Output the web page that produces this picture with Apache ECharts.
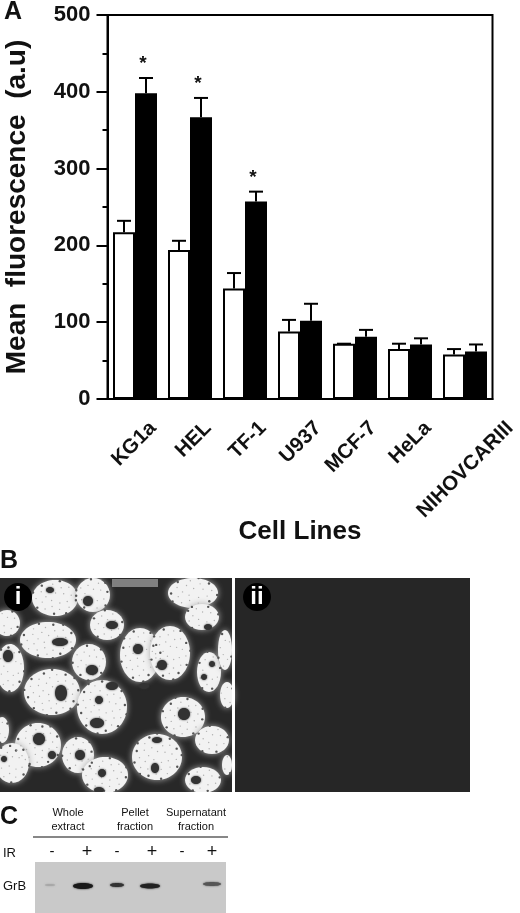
<!DOCTYPE html>
<html><head><meta charset="utf-8">
<style>html,body{margin:0;padding:0;background:#fff}#c{width:520px;height:913px}</style>
<script src="https://cdn.jsdelivr.net/npm/echarts@6/dist/echarts.min.js"></script>
</head><body><div id="c"></div>
<script>
const categories = ['KG1a','HEL','TF-1','U937','MCF-7','HeLa','NIHOVCARIII'];
const controlValues = [217,194,144,88,72,65,58];
const treatedValues = [398,367,257,102,81,71,62];
const controlTops = [232,206,164,103,72,72,65];
const treatedTops = [418,392,270,124,90,79,71];
const significant = [true,true,true,false,false,false,false];

// Panel B decoration: [cx, cy, rx, ry]
const cells = [[55,598,23,18],[93,595,17,17],[107,625,17,15],[48,640,28,18],[89,662,17,18],[10,668,14,24],[7,623,13,13],
 [52,692,28,23],[102,707,25,27],[140,655,20,27],[170,653,20,27],[193,593,25,15],[202,617,17,13],[209,672,12,20],
 [183,717,22,20],[212,740,17,14],[38,745,23,22],[78,755,16,18],[12,763,17,20],[105,775,23,18],[157,757,25,23],
 [203,780,18,13],[227,695,7,13],[225,650,7,20],[2,730,7,13],[227,765,5,10]];
const nuclei = [[88,601,5,5],[112,625,6,4],[60,642,8,4],[92,670,6,5],[8,656,5,6],[61,693,6,8],[112,686,6,4],[99,700,4,4],
 [97,723,7,5],[138,649,5,5],[162,665,5,5],[144,686,5,3],[212,664,3,3],[204,677,3,3],[184,714,6,6],[39,739,6,6],[52,755,4,4],
 [80,755,5,5],[4,759,3,3],[102,773,4,4],[99,790,5,3],[155,768,4,5],[157,740,5,3],[196,780,5,4],[50,590,4,3],[208,627,4,3]];
// Panel C decoration
const bands = [[50,885,5,1,'#a8a8a8'],[83,886,10,3,'#1a1a1a'],[117,885,7,2,'#333'],[150,886,10,2.5,'#222'],[212,884,9,2,'#555']];
const lanes = [[52,'-'],[87,'+'],[117,'-'],[152,'+'],[182,'-'],[212,'+']];
const heads = [[68,813,'Whole'],[68,827,'extract'],[135,813,'Pellet'],[135,827,'fraction'],[196,813,'Supernatant'],[196,827,'fraction']];

const FONT = '"Liberation Sans", Arial, sans-serif';
const txt = (x,y,s,size,weight,extra) => ({type:'text',z:20,style:Object.assign({x,y,text:s,font:`${weight||'normal'} ${size}px ${FONT}`,fill:'#111',align:'center',verticalAlign:'middle'},extra||{})});
const rect = (x,y,w,h,fill,z) => ({type:'rect',z:z||5,shape:{x,y,width:w,height:h},style:{fill}});
const ell = (c,fill,z,blur,sc) => ({type:'ellipse',z,shape:{cx:c[0],cy:c[1],rx:c[2],ry:c[3]},style:{fill,shadowBlur:blur,shadowColor:sc||fill}});
// micrograph grain: small specks scattered over each cell on a golden-angle spiral
const specks = cells.flatMap(c => {
  const n = Math.round(c[2]*c[3]/16), out = [];
  for (let k=1;k<=n;k++){ const r=Math.sqrt(k/n)*1.02, t=k*2.39996;
    out.push({type:'circle',z:7,shape:{cx:c[0]+r*c[2]*Math.cos(t),cy:c[1]+r*c[3]*Math.sin(t),r:r>0.85?1.2:0.7},style:{fill:r>0.85?'#555':'#b0b0b0'}}); }
  return out;
});

const graphics = [
  txt(13,12,'A',25,'bold'), txt(9,561,'B',25,'bold'), txt(9,817,'C',25,'bold'),
  rect(0,578,232,214,'#282828',5), rect(235,578,235,214,'#262626',5),
  rect(112,579,46,8,'#808080',6),
  ...cells.map(c=>ell(c,'#f2f2f2',7,6,'#aaa')),
  ...specks,
  ...nuclei.map(c=>ell(c,'#333',8,2)),
  rect(232,570,3,230,'#fff',9), rect(0,792,240,8,'#fff',9), rect(0,570,240,8,'#fff',9),
  ell([18,597,14,14],'#000',10,0), txt(18,597,'i',24,'bold',{fill:'#fff'}),
  ell([257,597,14,14],'#000',10,0), txt(257,597,'ii',24,'bold',{fill:'#fff'}),
  ...heads.map(h=>txt(h[0],h[1],h[2],11)),
  {type:'line',z:20,shape:{x1:33,y1:837,x2:228,y2:837},style:{stroke:'#111',lineWidth:1.2}},
  txt(3,853,'IR',13,'normal',{align:'left'}), txt(3,886,'GrB',13,'normal',{align:'left'}),
  ...lanes.map(l=>txt(l[0],852,l[1],l[1]==='+'?18:15)),
  rect(35,862,191,51,'#c9c9c9',5),
  ...bands.map(b=>ell(b.slice(0,4),b[4],6,2))
];

const chart = echarts.init(document.getElementById('c'));
const errorRender = (tops,off) => (p,api) => {
  const i = api.value(0), a = api.coord([i,api.value(1)]), b = api.coord([i,tops[i]]);
  const x = a[0]+off, st = {stroke:'#000',lineWidth:2};
  return {type:'group',children:[
    {type:'line',shape:{x1:x,y1:a[1],x2:x,y2:b[1]},style:st},
    {type:'line',shape:{x1:x-7,y1:b[1],x2:x+7,y2:b[1]},style:st}
  ]};
};
const last = categories.length-1;
const labelBase = {rotate:45,interval:0,margin:26,fontFamily:FONT,fontWeight:'bold',fontSize:20.5,color:'#111'};
chart.setOption({
  animation:false,
  backgroundColor:'#fff',
  grid:[
    {left:107.5,right:27.5,top:15,height:384,outerBoundsMode:'none',show:true,borderColor:'#000',borderWidth:2,backgroundColor:'transparent'},
    {left:125.5,right:9.5,top:15,height:384,outerBoundsMode:'none'},
    {left:152.5,right:-17.5,top:15,height:384,outerBoundsMode:'none'}
  ],
  xAxis:[
   {type:'category',data:categories,gridIndex:0,
    name:'Cell Lines',nameLocation:'middle',nameGap:120,nameTextStyle:{fontFamily:FONT,fontWeight:'bold',fontSize:26,color:'#111'},
    axisLine:{lineStyle:{color:'#000',width:2}},
    axisTick:{alignWithLabel:true,length:10,lineStyle:{color:'#000',width:2}},
    axisLabel:{show:false}},
   {type:'category',data:categories,gridIndex:1,axisLine:{show:false},axisTick:{show:false},
    axisLabel:Object.assign({},labelBase,{formatter:(v,i)=>i===last?'':v})},
   {type:'category',data:categories,gridIndex:2,axisLine:{show:false},axisTick:{show:false},
    axisLabel:Object.assign({},labelBase,{formatter:(v,i)=>i===last?v:''})}
  ],
  yAxis:[
   {type:'value',min:0,max:500,interval:100,gridIndex:0,
    name:'Mean  fluorescence  (a.u)',nameLocation:'middle',nameGap:76,nameTextStyle:{fontFamily:FONT,fontWeight:'bold',fontSize:28,color:'#111'},
    axisLine:{show:true,lineStyle:{color:'#000',width:2}},
    axisTick:{show:true,length:11,lineStyle:{color:'#000',width:2}},
    minorTick:{show:true,splitNumber:2,length:5,lineStyle:{color:'#000',width:2}},
    splitLine:{show:false},minorSplitLine:{show:false},
    axisLabel:{margin:17,fontFamily:FONT,fontWeight:'bold',fontSize:22,color:'#111'}},
   {type:'value',min:0,max:500,gridIndex:1,show:false},
   {type:'value',min:0,max:500,gridIndex:2,show:false}
  ],
  series:[
    {type:'bar',data:controlValues,barWidth:22,barGap:'0%',itemStyle:{color:'#fff',borderColor:'#000',borderWidth:2},z:3},
    {type:'bar',data:treatedValues,barWidth:22,barGap:'0%',itemStyle:{color:'#000',borderColor:'#000',borderWidth:2},z:3},
    {type:'custom',data:categories.map((c,i)=>[i,controlValues[i]]),renderItem:errorRender(controlTops,-11),z:2,silent:true},
    {type:'custom',data:categories.map((c,i)=>[i,treatedValues[i]]),renderItem:errorRender(treatedTops,11),z:2,silent:true},
    {type:'custom',z:4,silent:true,
      data:categories.map((c,i)=>[i,treatedTops[i]]).filter(d=>significant[d[0]]),
      renderItem:(p,api)=>{const a=api.coord([api.value(0),api.value(1)]);
        return {type:'text',style:{x:a[0]+8,y:a[1]-14,text:'*',font:`bold 19px ${FONT}`,fill:'#111',align:'center',verticalAlign:'middle'}};}}
  ],
  graphic:{elements:graphics}
});
</script></body></html>
